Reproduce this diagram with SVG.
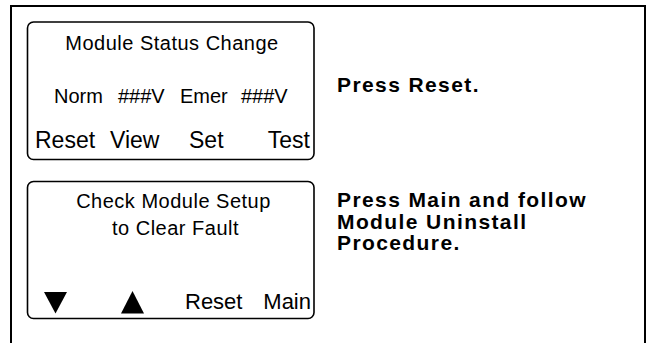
<svg xmlns="http://www.w3.org/2000/svg" width="650" height="343" viewBox="0 0 650 343">
<style>
.frame{fill:none;stroke:#000;stroke-width:2}
.lcd{fill:#fff;stroke:#000;stroke-width:1.6}
.t{font-family:"Liberation Sans",Arial,sans-serif;fill:#000}
.s20{font-size:20px;letter-spacing:0.5px}
.s23{font-size:23px}
.s22{font-size:22px}
.b{font-family:"Liberation Sans",Arial,sans-serif;font-weight:bold;font-size:21px;letter-spacing:1.4px;fill:#000}
</style>
<rect width="650" height="343" fill="#fff"/>
<path class="frame" d="M11,343 V6 H645 V343"/>
<g id="screen1">
<rect class="lcd" x="27.5" y="22" width="286.5" height="137.5" rx="6"/>
<text class="t s20" x="172" y="50" text-anchor="middle">Module Status Change</text>
<text class="t" style="font-size:20px" y="103"><tspan x="54">Norm</tspan><tspan x="118">###V</tspan><tspan x="180">Emer</tspan><tspan x="241">###V</tspan></text>
<text class="t s23" y="147.5"><tspan x="35">Reset</tspan><tspan x="110">View</tspan><tspan x="189">Set</tspan></text>
<text class="t s23" x="310" y="147.5" text-anchor="end">Test</text>
</g>
<g id="screen2">
<rect class="lcd" x="27.5" y="181.5" width="286.5" height="137" rx="6"/>
<text class="t s20" x="173.5" y="208" text-anchor="middle">Check Module Setup</text>
<text class="t s20" x="175.5" y="235" text-anchor="middle">to Clear Fault</text>
<polygon points="44,292 67,292 55.5,313.5" fill="#000"/>
<polygon points="121,313.5 144,313.5 132.5,291" fill="#000"/>
<text class="t s22" x="185" y="309">Reset</text>
<text class="t s22" x="311" y="309" text-anchor="end">Main</text>
</g>
<g id="instr1">
<text class="b" x="337" y="92">Press Reset.</text>
</g>
<g id="instr2">
<text class="b" x="337" y="207">Press Main and follow</text>
<text class="b" x="337" y="228.5">Module Uninstall</text>
<text class="b" x="337" y="250">Procedure.</text>
</g>
<g id="connectors"></g>
</svg>
